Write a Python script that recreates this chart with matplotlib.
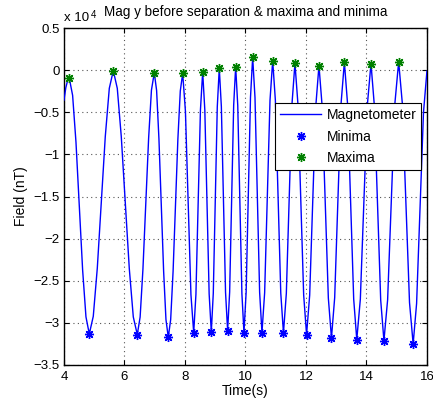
import matplotlib
matplotlib.use("Agg")
import matplotlib.pyplot as plt
from matplotlib.ticker import FuncFormatter, MultipleLocator

plt.rcParams['font.family'] = ['Liberation Sans', 'DejaVu Sans']
plt.rcParams['mathtext.default'] = 'regular'

# Magnetometer y-axis trace (time in s, field in nT)
trace_t = [
    4.000, 4.060, 4.120, 4.175,
    4.285, 4.396, 4.506, 4.616, 4.726, 4.836,
    4.968, 5.101, 5.233, 5.365, 5.498, 5.630,
    5.762, 5.894, 6.027, 6.159, 6.291, 6.423,
    6.517, 6.610, 6.704, 6.798, 6.891, 6.985,
    7.062, 7.139, 7.217, 7.294, 7.371, 7.448,
    7.527, 7.607, 7.686, 7.765, 7.845, 7.924,
    8.015, 8.106, 8.197, 8.288,
    8.362, 8.437, 8.511, 8.585,
    8.656, 8.728, 8.799, 8.870,
    8.936, 9.002, 9.068, 9.134,
    9.203, 9.272, 9.341, 9.410,
    9.477, 9.543, 9.610, 9.676,
    9.745, 9.813, 9.882, 9.950,
    10.022, 10.094, 10.166, 10.238,
    10.315, 10.392, 10.468, 10.545,
    10.634, 10.723, 10.811, 10.900,
    10.989, 11.078, 11.167, 11.256,
    11.351, 11.446, 11.541, 11.636,
    11.732, 11.828, 11.924, 12.020,
    12.123, 12.225, 12.328, 12.430,
    12.533, 12.637, 12.740, 12.843,
    12.950, 13.057, 13.163, 13.270,
    13.373, 13.475, 13.578, 13.680,
    13.798, 13.915, 14.033, 14.150,
    14.257, 14.364, 14.471, 14.578,
    14.700, 14.822, 14.943, 15.065,
    15.185, 15.305, 15.424, 15.544,
    15.658, 15.772, 15.886, 16.000,
]
trace_nT = [
    -3540, -2070, -1210, -950,
    -2980, -8540, -16130, -23720, -29280, -31310,
    -29220, -23500, -15680, -7870, -2140, -50,
    -2150, -7890, -15720, -23560, -29290, -31390,
    -29310, -23620, -15840, -8070, -2370, -290,
    -2400, -8150, -16000, -23860, -29600, -31710,
    -29610, -23870, -16040, -8200, -2460, -360,
    -4870, -15760, -26640, -31150,
    -26620, -15680, -4730, -200,
    -4720, -15640, -26550, -31070,
    -26480, -15420, -4350, 240,
    -4330, -15340, -26360, -30920,
    -26330, -15250, -4160, 430,
    -4200, -15360, -26520, -31150,
    -26360, -14800, -3240, 1550,
    -3240, -14800, -26360, -31150,
    -26420, -15000, -3580, 1150,
    -3590, -15020, -26450, -31190,
    -26500, -15180, -3860, 830,
    -3890, -15280, -26670, -31390,
    -26710, -15420, -4130, 550,
    -4190, -15620, -27050, -31790,
    -26990, -15420, -3850, 950,
    -3880, -15520, -27160, -31990,
    -27190, -15600, -4000, 800,
    -4020, -15660, -27290, -32110,
    -27260, -15550, -3830, 1020,
    -3890, -15740, -27590, -32500,
    -27700, -16500, -5000, -100,
]

# Detected extrema
min_t = [4.836, 6.423, 7.448, 8.288, 8.870, 9.410, 9.950,
         10.545, 11.256, 12.020, 12.843, 13.680, 14.578, 15.544]
min_nT = [-31310, -31390, -31710, -31150, -31070, -30920, -31150,
          -31150, -31190, -31390, -31790, -31990, -32110, -32500]
max_t = [4.175, 5.630, 6.985, 7.924, 8.585, 9.134, 9.676,
         10.238, 10.900, 11.636, 12.430, 13.270, 14.150, 15.065]
max_nT = [-950, -50, -290, -360, -200, 240, 430,
          1550, 1150, 830, 550, 950, 800, 1020]

x_ticks = [4, 6, 8, 10, 12, 14, 16]
y_scale = 1e4

fig = plt.figure(figsize=(4.33, 4.08), dpi=100)
ax = fig.add_axes([0.1478, 0.1054, 0.8382, 0.8256])

ax.plot(trace_t, trace_nT, color='#0000ff', lw=1.0, label='Magnetometer', zorder=3)
ax.plot(min_t, min_nT, linestyle='none', marker=(8, 2, 0), markersize=6.5,
        markeredgecolor='#0000ff', markeredgewidth=1.0, label='Minima', zorder=4)
ax.plot(max_t, max_nT, linestyle='none', marker=(8, 2, 0), markersize=6.5,
        markeredgecolor='#008000', markeredgewidth=1.0, label='Maxima', zorder=4)

ax.set_xlim(4, 16)
ax.set_ylim(-35000, 5000)
ax.set_xticks(x_ticks)
ax.yaxis.set_major_locator(MultipleLocator(5000))
ax.yaxis.set_major_formatter(
    FuncFormatter(lambda v, p: f'{v / y_scale:g}'.replace('-', '\u2212')))
ax.xaxis.set_major_formatter(FuncFormatter(lambda v, p: f'{v:g}'))

ax.tick_params(direction='in', length=3.5, width=0.8, top=True, right=True,
               labelsize=9.5, colors='black')
ax.tick_params(axis='y', pad=3)
ax.tick_params(axis='x', pad=4)
for s in ax.spines.values():
    s.set_linewidth(1.0)
    s.set_color('black')

ax.grid(True, color='#555555', linestyle=(0, (1, 3)), linewidth=0.8)
ax.set_axisbelow(True)

ax.set_xlabel('Time(s)', fontsize=10, labelpad=1)
ax.set_ylabel('Field (nT)', fontsize=10, labelpad=4)
ax.set_title('Mag y before separation & maxima and minima', fontsize=9.75,
             pad=8.5)

# scale factor shown above the y axis
ax.annotate('x 10', xy=(0.0, 1.012), xycoords='axes fraction', fontsize=9.5,
            ha='left', va='bottom')
ax.annotate('4', xy=(0.0, 1.012), xycoords='axes fraction', xytext=(19.2, 3.2),
            textcoords='offset points', fontsize=7, ha='left', va='bottom')

leg = ax.legend(loc='upper right', bbox_to_anchor=(0.984, 0.778), borderaxespad=0,
                fontsize=10, numpoints=1, handlelength=3.0, fancybox=False,
                framealpha=1, edgecolor='black', borderpad=0.35, labelspacing=0.56,
                handletextpad=0.36)
leg.get_frame().set_linewidth(0.8)

fig.savefig('out.png', dpi=100)
